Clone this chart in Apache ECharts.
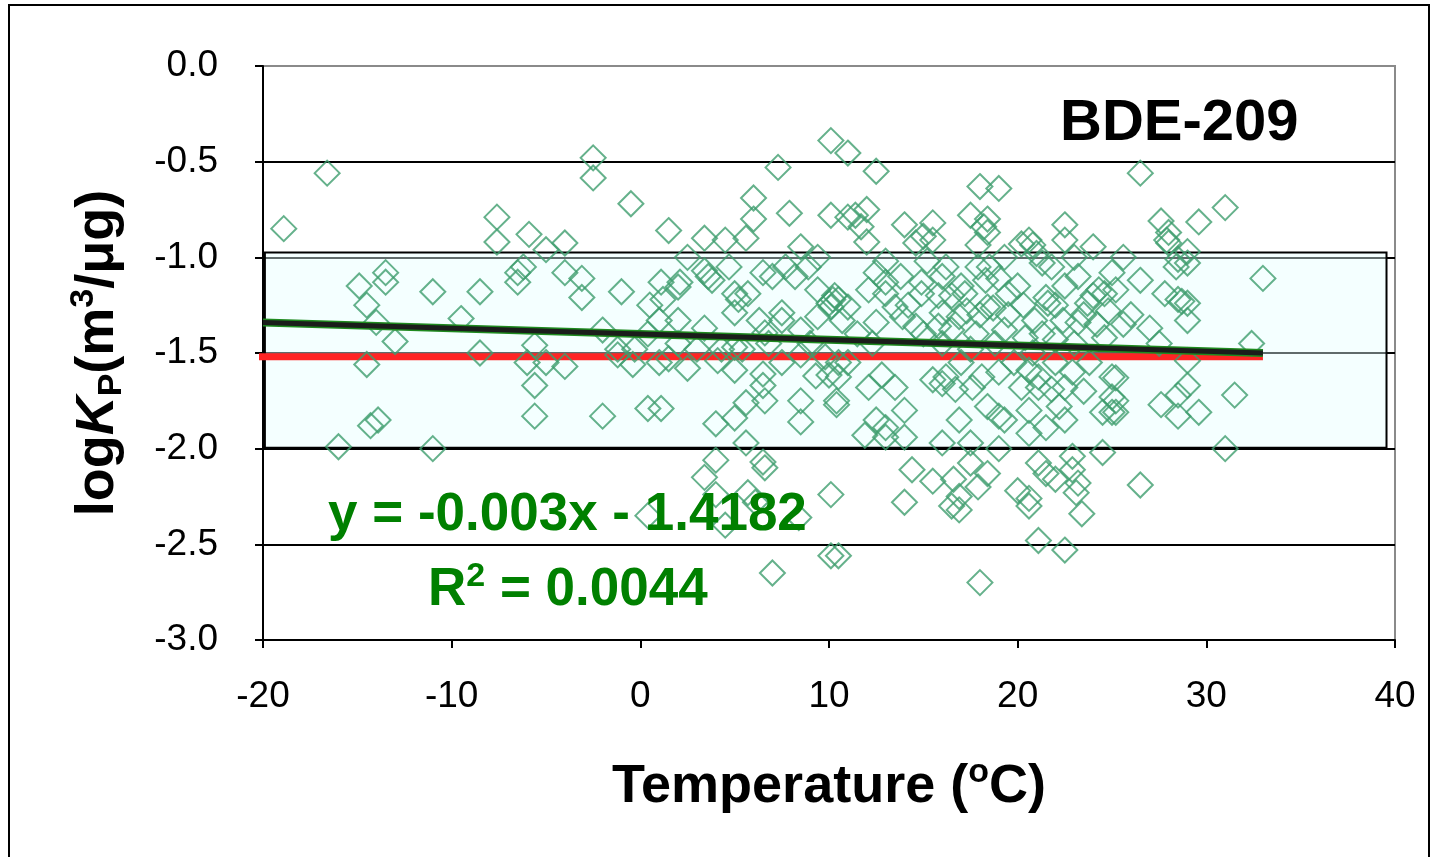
<!DOCTYPE html>
<html>
<head>
<meta charset="utf-8">
<script src="https://cdn.jsdelivr.net/npm/echarts@6/dist/echarts.min.js"></script>
<style>
html,body{margin:0;padding:0;background:#fff;}
#chart{width:1436px;height:857px;}
</style>
</head>
<body>
<div id="chart"></div>
<script>
// ---- data ----
const xTicks = [-20, -10, 0, 10, 20, 30, 40];
const yTicks = [-3.0, -2.5, -2.0, -1.5, -1.0, -0.5, 0.0];
const titleText = 'BDE-209';
const equationText = 'y = -0.003x - 1.4182';
const r2Text = '0.0044';
// observations: [temperature (°C), log Kp]
const observations = [
  [-18.9,-0.85],[-16.6,-0.56],[-16.0,-1.99],[-14.9,-1.15],[-14.5,-1.25],[-14.5,-1.56],[-14.0,-1.34],
  [-13.5,-1.08],[-13.5,-1.13],[-13.0,-1.44],[-13.9,-1.85],[-14.3,-1.88],[-11.0,-1.18],[-11.0,-2.0],
  [-9.5,-1.32],[-8.5,-1.18],[-8.5,-1.50],[-7.6,-0.79],[-7.6,-0.92],[-5.9,-0.88],[-5.0,-0.96],[-4.0,-0.925],
  [-6.2,-1.05],[-6.5,-1.08],[-6.5,-1.13],[-4.0,-1.08],[-3.1,-1.11],[-3.1,-1.21],[-5.6,-1.46],[-2.0,-1.38],
  [-2.5,-0.48],[-2.5,-0.585],[-6.0,-1.55],[-5.0,-1.55],[-4.0,-1.57],[-5.6,-1.67],[-5.6,-1.83],[-2.0,-1.83],
  [-0.5,-0.72],[-1.2,-1.48],[-0.3,-1.48],[-1.2,-1.51],[-0.4,-1.56],[-1.0,-1.18],
  [1.5,-0.86],[3.4,-0.90],[4.5,-0.91],[6.0,-0.69],[6.0,-0.80],[5.6,-0.90],[7.3,-0.53],[2.5,-1.0],
  [3.4,-1.07],[3.6,-1.10],[3.8,-1.12],[4.7,-1.05],[1.1,-1.13],[2.0,-1.155],[2.1,-1.13],[1.2,-1.22],
  [5.0,-1.19],[5.7,-1.19],[5.2,-1.22],[6.5,-1.08],[7.0,-1.10],[1.0,-1.33],[2.0,-1.33],[3.4,-1.37],
  [5.0,-1.29],[6.3,-1.33],[6.6,-1.395],[0.4,-1.40],[5.0,-1.47],[4.3,-1.48],[5.4,-1.48],[1.5,-1.53],
  [2.5,-1.58],[4.1,-1.54],[5.0,-1.59],[6.5,-1.61],[6.5,-1.67],[6.6,-1.75],[5.6,-1.76],[0.4,-1.79],
  [1.1,-1.79],[4.0,-1.87],[5.0,-1.84],[5.6,-1.97],[4.0,-2.06],[3.4,-2.15],[4.0,-2.24],[5.7,-2.23],
  [6.5,-2.07],[6.6,-2.10],[0.4,-2.35],[4.5,-2.40],[6.1,-2.28],[7.0,-2.65],[0.5,-1.25],[3.0,-1.48],
  [2.0,-1.45],[1.0,-1.55],
  [7.9,-0.77],[8.5,-0.945],[9.4,-1.0],[7.7,-1.05],[8.2,-1.10],[8.9,-1.05],[9.4,-1.17],[7.5,-1.29],
  [7.5,-1.33],[8.5,-1.38],[9.4,-1.31],[8.5,-1.51],[9.8,-1.52],[9.3,-1.62],[10.0,-1.615],[8.5,-1.75],
  [8.5,-1.86],[8.4,-2.36],[10.1,-0.39],[10.1,-0.78],[10.1,-2.24],[10.1,-2.56],[10.5,-2.56],
  [10.2,-1.22],[10.0,-1.24],[10.5,-1.22],[10.3,-1.20],[10.1,-1.26],[10.7,-1.33],[10.5,-1.55],
  [10.5,-1.625],[10.4,-1.75],[10.4,-1.77],[7.5,-1.55],[6.8,-1.45],[9.0,-1.45],
  [11.0,-0.455],[12.5,-0.55],[11.0,-0.79],[11.4,-0.78],[12.0,-0.75],[11.7,-0.84],[12.0,-0.92],
  [14.0,-0.83],[15.0,-0.89],[15.5,-0.82],[14.6,-0.925],[15.5,-0.91],[12.5,-1.08],[13.0,-1.13],
  [12.1,-1.17],[13.0,-1.19],[11.0,-1.26],[12.5,-1.34],[13.5,-1.26],[13.9,-1.31],[14.6,-1.36],
  [14.9,-1.19],[14.9,-1.13],[16.0,-1.29],[15.8,-1.36],[12.1,-1.68],[13.5,-1.68],[12.8,-1.615],
  [14.0,-1.80],[12.5,-1.85],[13.0,-1.89],[11.9,-1.93],[14.0,-1.94],[13.0,-1.94],[16.0,-1.97],
  [15.5,-1.64],[16.0,-1.66],[14.4,-2.11],[15.5,-2.17],[14.0,-2.28],[13.0,-1.02],[12.3,-1.45],
  [11.5,-1.40],[11.0,-1.55],[13.8,-1.10],[14.2,-1.25],[15.0,-1.40],[15.2,-1.02],[15.8,-1.20],
  [18.0,-0.63],[19.0,-0.64],[17.5,-0.78],[18.4,-0.80],[18.2,-0.84],[18.4,-0.87],[17.9,-0.935],
  [19.3,-1.0],[16.2,-1.05],[17.9,-1.05],[17.2,-1.19],[18.3,-1.12],[19.0,-1.11],[19.5,-1.19],
  [18.7,-1.265],[18.4,-1.26],[16.9,-1.31],[19.3,-1.38],[16.5,-1.38],[16.2,-1.625],[16.7,-1.69],
  [16.9,-1.85],[17.6,-1.68],[18.1,-1.625],[18.4,-1.78],[19.3,-1.85],[19.0,-1.83],[17.5,-1.97],
  [19.0,-2.0],[17.5,-2.075],[18.4,-2.13],[17.9,-2.20],[16.6,-2.16],[16.9,-2.25],[16.5,-2.30],
  [16.9,-2.32],[18.0,-2.70],[16.0,-1.10],[16.5,-1.20],[17.0,-1.15],[17.3,-1.28],[17.8,-1.40],
  [18.0,-1.30],[18.8,-1.45],[19.5,-1.30],[19.8,-1.55],[19.0,-1.60],[17.0,-1.55],[16.0,-1.45],
  [17.5,-1.48],[18.5,-1.05],
  [20.2,-0.93],[20.6,-0.91],[20.8,-0.935],[22.5,-0.83],[22.5,-0.91],[24.0,-0.945],[21.3,-1.03],
  [21.8,-1.05],[21.5,-1.21],[21.6,-1.24],[23.2,-1.10],[24.3,-1.17],[24.6,-1.19],[23.7,-1.24],
  [25.0,-1.08],[20.9,-1.33],[22.4,-1.33],[23.2,-1.34],[20.4,-1.42],[22.0,-1.43],[24.6,-1.42],
  [20.6,-1.80],[21.1,-1.68],[21.8,-1.69],[22.5,-1.68],[22.9,-1.60],[21.1,-1.625],[20.6,-1.59],
  [22.2,-1.78],[22.5,-1.85],[21.5,-1.89],[20.6,-1.92],[25.0,-1.625],[25.0,-1.73],[24.5,-1.81],
  [25.0,-1.81],[20.0,-2.22],[20.6,-2.26],[20.6,-2.30],[21.1,-2.075],[21.5,-2.13],[22.0,-2.16],
  [22.9,-2.04],[22.9,-2.11],[23.2,-2.18],[23.1,-2.23],[23.4,-2.34],[24.5,-2.02],[21.1,-2.48],
  [22.5,-2.53],[20.0,-1.15],[20.3,-1.25],[20.8,-1.50],[21.3,-1.40],[22.0,-1.25],[22.5,-1.15],
  [23.0,-1.45],[23.5,-1.30],[24.0,-1.20],[24.2,-1.35],[24.8,-1.28],[22.0,-1.55],[23.8,-1.55],
  [21.0,-0.98],[23.0,-1.00],[20.2,-1.68],[23.5,-1.70],
  [26.5,-0.56],[27.6,-0.81],[29.6,-0.815],[31.0,-0.74],[28.0,-0.87],[27.9,-0.91],[28.0,-0.925],
  [25.6,-1.0],[29.0,-0.97],[28.5,-1.01],[28.4,-1.05],[29.0,-1.03],[26.5,-1.12],[25.2,-1.17],
  [27.8,-1.19],[28.5,-1.22],[29.0,-1.24],[28.7,-1.23],[33.0,-1.11],[25.6,-1.35],[27.0,-1.37],
  [29.0,-1.33],[32.4,-1.45],[29.0,-1.54],[25.2,-1.63],[25.2,-1.75],[25.2,-1.81],[27.6,-1.77],
  [28.5,-1.72],[29.0,-1.67],[28.5,-1.83],[29.6,-1.81],[31.5,-1.72],[31.0,-2.0],[26.5,-2.19],
  [26.0,-1.30],[27.5,-1.45]
];
// fitted trend line end points (as drawn)
const trendX = [-20, 33];
const trendY = [-1.34, -1.50];
// red reference line
const refX = [-20.6, 33];
const refY = [-1.52, -1.52];
// shaded band
const bandX = [-19.9, 39.55];
const bandY = [-0.975, -1.995];

// ---- chart ----
const FONT = "'Liberation Sans', Arial, sans-serif";
const chart = echarts.init(document.getElementById('chart'), null, {renderer: 'canvas'});
const supStyle = {fontSize: 34, lineHeight: 24, fontWeight: 'bold', verticalAlign: 'top', color: '#000', fontFamily: FONT};
const option = {
  animation: false,
  backgroundColor: '#fff',
  textStyle: {fontFamily: FONT},
  grid: {left: 263, right: 41, top: 66, bottom: 217, show: true, borderColor: '#8a8a8a', borderWidth: 2, backgroundColor: 'transparent'},
  xAxis: {
    type: 'value', min: xTicks[0], max: xTicks[xTicks.length - 1], interval: 10,
    axisLine: {show: true, onZero: false, lineStyle: {color: '#000', width: 2}},
    axisTick: {show: true, inside: false, length: 8, lineStyle: {color: '#000', width: 2}},
    axisLabel: {fontSize: 37, color: '#000', margin: 38, fontFamily: FONT},
    splitLine: {show: false},
    name: 'Temperature ({sup|o}C)',
    nameLocation: 'middle', nameGap: 116,
    nameTextStyle: {fontSize: 54, lineHeight: 62, fontWeight: 'bold', color: '#000', fontFamily: FONT,
      rich: {sup: supStyle}}
  },
  yAxis: {
    type: 'value', min: yTicks[0], max: yTicks[yTicks.length - 1], interval: 0.5,
    axisLine: {show: true, onZero: false, lineStyle: {color: '#000', width: 2}},
    axisTick: {show: true, inside: false, length: 8, lineStyle: {color: '#000', width: 2}},
    axisLabel: {fontSize: 37, color: '#000', margin: 45, fontFamily: FONT, formatter: v => v.toFixed(1)},
    splitLine: {show: true, showMaxLine: false, lineStyle: {color: '#000', width: 2}},
    name: 'log{i|K}{sub|P}(m{sup|3}/μg)',
    nameLocation: 'middle', nameGap: 134,
    nameTextStyle: {fontSize: 54, lineHeight: 62, fontWeight: 'bold', color: '#000', fontFamily: FONT,
      rich: {
        i: {fontSize: 54, lineHeight: 62, fontWeight: 'bold', fontStyle: 'italic', color: '#000', fontFamily: FONT},
        sub: {fontSize: 34, lineHeight: 50, fontWeight: 'bold', verticalAlign: 'bottom', color: '#000', fontFamily: FONT},
        sup: supStyle
      }}
  },
  series: [
    {
      type: 'line', data: [], z: 1, silent: true,
      markArea: {silent: true,
        itemStyle: {color: 'rgba(228,255,255,0.42)', borderColor: '#000', borderWidth: 2},
        data: [[{xAxis: bandX[0], yAxis: bandY[0]}, {xAxis: bandX[1], yAxis: bandY[1]}]]}
    },
    {
      type: 'line', z: 2, clip: false, symbol: 'none', silent: true,
      data: refX.map((x, i) => [x, refY[i]]),
      lineStyle: {color: '#ff2424', width: 7}
    },
    {
      type: 'scatter', z: 3, symbol: 'diamond', symbolSize: 25,
      data: observations,
      itemStyle: {color: 'rgba(0,0,0,0)', borderColor: '#3f9e6e', borderWidth: 2}
    },
    {
      type: 'line', z: 4, symbol: 'none', silent: true,
      data: trendX.map((x, i) => [x, trendY[i]]),
      lineStyle: {color: '#1f8a1f', width: 8}
    },
    {
      type: 'line', z: 5, symbol: 'none', silent: true,
      data: trendX.map((x, i) => [x, trendY[i]]),
      lineStyle: {color: '#1b1d1b', width: 5}
    }
  ],
  graphic: [
    {type: 'rect', z: -1, silent: true, shape: {x: 9, y: 5, width: 1420, height: 870},
     style: {fill: 'none', stroke: '#000', lineWidth: 2}},
    {type: 'text', left: 1060, top: 95, z: 10,
     style: {text: titleText, font: "bold 58px 'Liberation Sans', Arial", fill: '#000'}},
    {type: 'text', left: 328, top: 489, z: 10,
     style: {text: equationText, font: "bold 53px 'Liberation Sans', Arial", fill: '#008000'}},
    {type: 'text', left: 428, top: 560, z: 10,
     style: {text: 'R{sup|2} = ' + r2Text, font: "bold 53px 'Liberation Sans', Arial", fill: '#008000', lineHeight: 60,
       rich: {sup: {font: "bold 34px 'Liberation Sans', Arial", fill: '#008000', lineHeight: 24, verticalAlign: 'top'}}}}
  ]
};
chart.setOption(option);
</script>
</body>
</html>
